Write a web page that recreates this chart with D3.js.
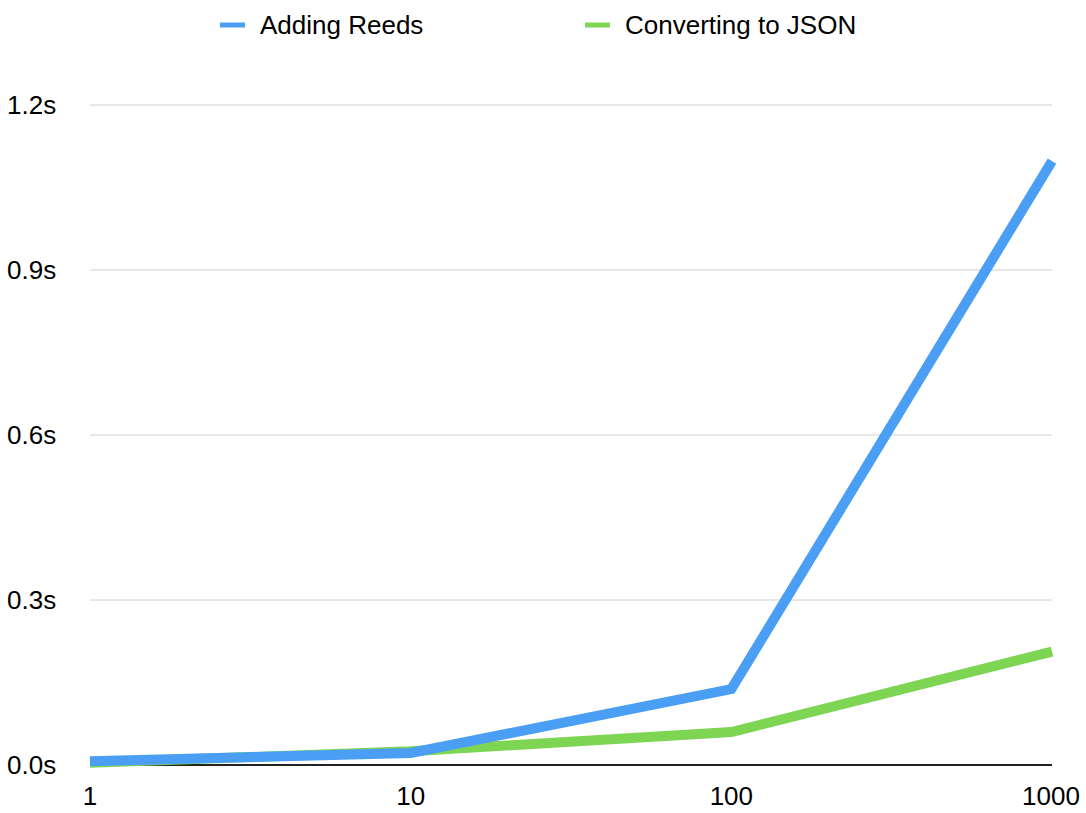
<!DOCTYPE html>
<html>
<head>
<meta charset="utf-8">
<script src="https://cdn.jsdelivr.net/npm/d3@7"></script>
<style>
  body { margin: 0; background: #fff; overflow: hidden; }
  svg { display: block; font-family: "Liberation Sans", Arial, sans-serif; }
</style>
</head>
<body>
<div class="canvas"></div>
<script>
// data
const sizes = ["1", "10", "100", "1000"];
const addingReeds = [0.007, 0.022, 0.138, 1.098];
const convertingJson = [0.004, 0.025, 0.060, 0.206];
const yTicks = [0, 0.3, 0.6, 0.9, 1.2];
const seriesNames = ["Adding Reeds", "Converting to JSON"];
const colors = ["#4a9ff5", "#7ed554"];

const w = 1086;
const h = 813;

const svg = d3.select(".canvas").append("svg")
  .attr("width", w)
  .attr("height", h);

const x = d3.scalePoint(sizes, [90, 1052]);
const y = d3.scaleLinear([0, 1.2], [765, 105]);

// gridlines
svg.append("g")
  .selectAll("line")
  .data(yTicks.filter(d => d > 0))
  .join("line")
  .attr("x1", 90)
  .attr("x2", 1052)
  .attr("y1", d => y(d))
  .attr("y2", d => y(d))
  .attr("stroke", "#d0d0d0")
  .attr("stroke-width", 1);

// y labels
svg.append("g")
  .selectAll("text")
  .data(yTicks)
  .join("text")
  .attr("x", 7)
  .attr("y", d => y(d) + 9)
  .attr("font-size", 26)
  .attr("fill", "#000")
  .text(d => d.toFixed(1) + "s");

// x axis line
svg.append("line")
  .attr("x1", 90).attr("x2", 1052)
  .attr("y1", y(0)).attr("y2", y(0))
  .attr("stroke", "#222")
  .attr("stroke-width", 2);

// x labels
svg.append("g")
  .selectAll("text")
  .data(sizes)
  .join("text")
  .attr("x", (d, i) => i == sizes.length - 1 ? x(d) - 1 : x(d))
  .attr("y", 805)
  .attr("text-anchor", "middle")
  .attr("font-size", 26)
  .text(d => d);

// lines
const line = d3.line()
  .x((d, i) => x(sizes[i]))
  .y(d => y(d));

[convertingJson, addingReeds].forEach((s, k) => {
  svg.append("path")
    .attr("d", line(s))
    .attr("fill", "none")
    .attr("stroke", colors[1 - k])
    .attr("stroke-width", 10)
    .attr("stroke-linejoin", "miter");
});

// legend
const legendX = [220, 585];
const leg = svg.append("g")
  .selectAll("g")
  .data(seriesNames)
  .join("g")
  .attr("transform", (d, i) => `translate(${legendX[i]}, 25)`);
leg.append("line")
  .attr("x1", 0).attr("x2", 25)
  .attr("stroke", (d, i) => colors[i])
  .attr("stroke-width", 5);
leg.append("text")
  .attr("x", 40)
  .attr("y", 9)
  .attr("font-size", 26)
  .text(d => d);
</script>
</body>
</html>
